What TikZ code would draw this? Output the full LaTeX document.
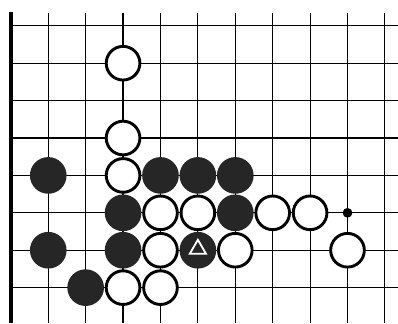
\documentclass[tikz,border=0pt]{standalone}
\usepackage{tikz}
\usetikzlibrary{shapes.geometric,positioning}
\tikzset{
    white stone/.style={circle, draw=black, fill=white, line width=2.2pt, minimum size=0.9cm, inner sep=0pt},
    black stone/.style={circle, fill=black!85, minimum size=0.98cm, inner sep=0pt},
    starpoint/.style={circle, fill=black, minimum size=0.26cm, inner sep=0pt},
    marker/.style={regular polygon, regular polygon sides=3, draw=white, line width=1.4pt, minimum size=0.5cm, inner sep=0pt},
}
\begin{document}
\begin{tikzpicture}[line width=0.9pt]
\useasboundingbox (-0.29,-0.95) rectangle (10.35,7.69);

% Board
\foreach \y in {0,...,7}
  \draw (0,\y) -- (10.35,\y);
\foreach \x in {1,...,10}
  \draw (\x,-0.95) -- (\x,7.35);
\draw[line width=3pt] (0,-0.95) -- (0,7.38);

% Star point
\node[starpoint] (s92) at (9,2) {};

% White stones
\node[white stone] (w36) at (3,6) {};
\node[white stone] (w34) at (3,4) {};
\node[white stone] (w33) at (3,3) {};
\node[white stone] (w42) at (4,2) {};
\node[white stone] (w52) at (5,2) {};
\node[white stone] (w72) at (7,2) {};
\node[white stone] (w82) at (8,2) {};
\node[white stone] (w41) at (4,1) {};
\node[white stone] (w61) at (6,1) {};
\node[white stone] (w91) at (9,1) {};
\node[white stone] (w30) at (3,0) {};
\node[white stone] (w40) at (4,0) {};

% Black stones
\node[black stone] (b13) at (1,3) {};
\node[black stone] (b43) at (4,3) {};
\node[black stone] (b53) at (5,3) {};
\node[black stone] (b63) at (6,3) {};
\node[black stone] (b32) at (3,2) {};
\node[black stone] (b62) at (6,2) {};
\node[black stone] (b11) at (1,1) {};
\node[black stone] (b31) at (3,1) {};
\node[black stone] (b51) at (5,1) {};
\node[black stone] (b20) at (2,0) {};

% Marked stone
\node[marker] (m51) at ([yshift=0.03cm]b51.center) {};

\end{tikzpicture}
\end{document}
